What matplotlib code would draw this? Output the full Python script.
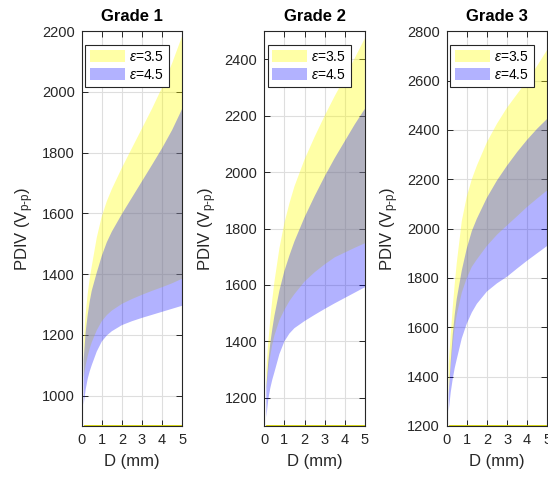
import matplotlib.pyplot as plt

plt.rcParams['font.family'] = ['Liberation Sans', 'DejaVu Sans']
plt.rcParams['mathtext.fontset'] = 'custom'
plt.rcParams['mathtext.rm'] = 'Liberation Sans'
plt.rcParams['mathtext.it'] = 'Liberation Sans:italic'

# gap distance D (mm)
D = [0.1, 0.2, 0.3, 0.4, 0.5, 0.75, 1.0, 1.25, 1.5, 2.0, 2.5, 3.0, 3.5, 4.0, 4.5, 5.0]

# PDIV bounds (V p-p) for eps = 3.5 and eps = 4.5, one row per grade
eps35_hi = [
    [1180, 1270, 1335, 1385, 1425, 1520, 1590, 1640, 1680, 1750, 1815, 1880, 1945, 2015, 2095, 2185],
    [1300, 1400, 1480, 1550, 1610, 1730, 1820, 1890, 1950, 2045, 2125, 2200, 2270, 2335, 2405, 2475],
    [1450, 1570, 1680, 1775, 1860, 2030, 2130, 2200, 2255, 2350, 2425, 2490, 2545, 2600, 2660, 2725],
]
eps35_lo = [
    [1060, 1100, 1130, 1155, 1175, 1215, 1245, 1265, 1280, 1302, 1318, 1332, 1345, 1357, 1370, 1385],
    [1230, 1300, 1350, 1390, 1420, 1475, 1512, 1543, 1568, 1612, 1645, 1673, 1698, 1715, 1732, 1748],
    [1330, 1440, 1530, 1600, 1650, 1740, 1800, 1845, 1875, 1930, 1975, 2013, 2050, 2088, 2122, 2155],
]
eps45_hi = [
    [1120, 1210, 1265, 1310, 1345, 1405, 1460, 1505, 1540, 1598, 1652, 1706, 1760, 1815, 1875, 1945],
    [1240, 1330, 1395, 1445, 1490, 1580, 1650, 1705, 1755, 1840, 1915, 1985, 2050, 2110, 2170, 2225],
    [1330, 1460, 1570, 1650, 1715, 1830, 1920, 1990, 2040, 2125, 2195, 2255, 2310, 2360, 2405, 2445],
]
eps45_lo = [
    [970, 1020, 1055, 1080, 1100, 1145, 1178, 1198, 1212, 1232, 1245, 1256, 1266, 1276, 1286, 1296],
    [1130, 1195, 1235, 1265, 1290, 1355, 1400, 1428, 1447, 1472, 1494, 1515, 1535, 1554, 1573, 1592],
    [1260, 1335, 1390, 1435, 1470, 1555, 1615, 1660, 1695, 1745, 1778, 1805, 1838, 1870, 1900, 1930],
]

titles = ['Grade 1', 'Grade 2', 'Grade 3']
ylims = [(900, 2200), (1100, 2500), (1200, 2800)]
lefts = [0.149, 0.4823, 0.8151]

dark = (0.15, 0.15, 0.15)

fig = plt.figure(figsize=(5.48, 4.78), dpi=100)
for i in range(3):
    ax = fig.add_axes([lefts[i], 0.1088, 0.1836, 0.826])
    ax.fill_between(D, eps35_lo[i], eps35_hi[i], facecolor=(1, 1, 0), alpha=0.35,
                    linewidth=0, label=r'$\epsilon$=3.5')
    ax.fill_between(D, eps45_lo[i], eps45_hi[i], facecolor=(0, 0, 1), alpha=0.3,
                    linewidth=0, label=r'$\epsilon$=4.5')
    ax.axhline(ylims[i][0], xmin=0.03, color=(0.85, 0.85, 0), lw=2, zorder=1.5)
    ax.set_xlim(0, 5)
    ax.set_ylim(*ylims[i])
    ax.set_xticks(range(6))
    ax.set_axisbelow(True)
    ax.grid(True, color='#dedede', lw=0.8)
    ax.tick_params(direction='in', top=True, right=True, length=4, width=0.7,
                   color=dark, labelcolor=dark, labelsize=10.5, pad=5)
    for sp in ax.spines.values():
        sp.set_color(dark)
        sp.set_linewidth(0.8)
    ax.set_title(titles[i], fontsize=12, fontweight='bold', pad=7)
    ax.set_xlabel('D (mm)', fontsize=12, color=dark, labelpad=5)
    ax.set_ylabel(r'PDIV (V$_{\text{p-p}}$)', fontsize=12, color=dark)
    leg = ax.legend(loc='upper left', bbox_to_anchor=(0.033, 0.965), borderaxespad=0,
                    fontsize=10, handlelength=2.5, handleheight=1.0, handletextpad=0.3,
                    borderpad=0.35, labelspacing=0.3, fancybox=False, framealpha=1)
    leg.get_frame().set_edgecolor(dark)
    leg.get_frame().set_linewidth(0.8)

fig.savefig('out.png', dpi=100)
